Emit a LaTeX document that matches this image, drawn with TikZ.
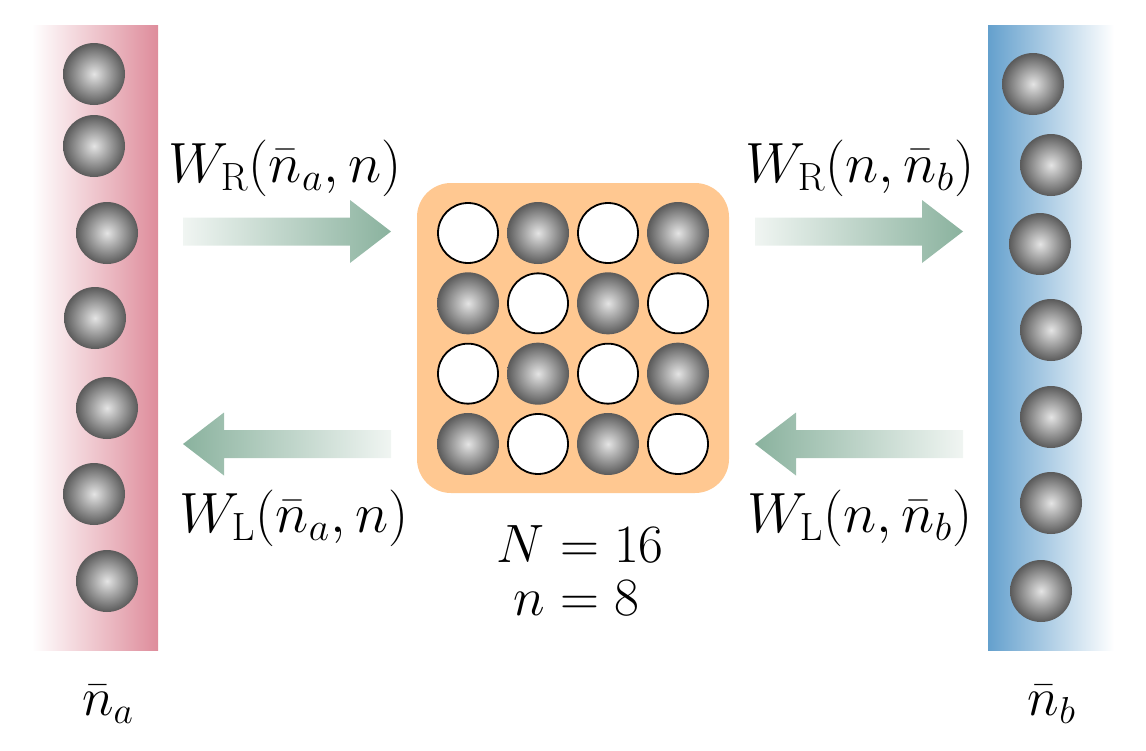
\documentclass[tikz,border=0pt]{standalone}
\DeclareMathSizes{24.88}{24.88}{17.28}{12}
\definecolor{resA}{RGB}{222,140,155}
\definecolor{resB}{RGB}{100,160,205}
\definecolor{boxorange}{RGB}{255,200,145}
\definecolor{arrowgreen}{RGB}{138,178,158}
\definecolor{arrowlight}{RGB}{240,245,242}
\definecolor{ballhi}{RGB}{228,228,228}
\definecolor{ballrim}{RGB}{90,90,90}
\begin{document}
\begin{tikzpicture}[x=1pt,y=-1pt,
  ball/.style={circle, minimum size=62pt, inner sep=0pt, inner color=ballhi, outer color=ballrim},
  hole/.style={circle, minimum size=60pt, inner sep=0pt, draw=black, line width=1.8pt, fill=white},
  lbl/.style={font=\fontsize{24.88}{30}\selectfont, inner sep=0pt, scale=2.1704, transform shape},
  wlbl/.style={lbl, scale=1.05},
  rarrow/.style={left color=arrowlight, right color=arrowgreen},
  larrow/.style={left color=arrowgreen, right color=arrowlight},
]
\useasboundingbox (0,0) rectangle (1146,750);
% reservoirs
\shade[left color=white, right color=resA] (32,25) rectangle (158,650);
\shade[left color=resB, right color=white] (988,25) rectangle (1114,650);
% reservoir particles
\foreach \x/\y [count=\i] in {94/74,94/146,107/233,95/318,107/408,94/494,107/581}
  \node[ball] (a\i) at (\x,\y) {};
\foreach \x/\y [count=\i] in {1033/84,1051/165,1040/244,1051/330,1051/417,1051/503,1041/591}
  \node[ball] (b\i) at (\x,\y) {};
% system
\node[fill=boxorange, rounded corners=34pt, minimum width=312pt, minimum height=310pt, inner sep=0pt] (sys) at (573,338) {};
\foreach \r in {0,...,3}
  \foreach \c in {0,...,3}{
    \pgfmathtruncatemacro{\odd}{mod(\r+\c,2)}
    \ifnum\odd=1
      \node[ball] (s\r\c) at (468+70*\c, 233+70.33*\r) {};
    \else
      \node[hole] (s\r\c) at (468+70*\c, 233+70.33*\r) {};
    \fi
  }
% arrows
\shade[rarrow] (183,217.5) -- (350,217.5) -- (350,200) -- (391,231.5) -- (350,263) -- (350,245.5) -- (183,245.5) -- cycle;
\shade[rarrow] (755,217.5) -- (922,217.5) -- (922,200) -- (963,231.5) -- (922,263) -- (922,245.5) -- (755,245.5) -- cycle;
\shade[larrow] (183,444) -- (224,412.5) -- (224,430) -- (391,430) -- (391,458) -- (224,458) -- (224,475.5) -- cycle;
\shade[larrow] (755,444) -- (796,412.5) -- (796,430) -- (963,430) -- (963,458) -- (796,458) -- (796,475.5) -- cycle;
% labels
\node[wlbl, anchor=base] (wra) at (285,182) {$W_{\mathrm{R}}(\bar n_a,n)$};
\node[wlbl, anchor=base] (wrb) at (860,182) {$W_{\mathrm{R}}(n,\bar n_b)$};
\node[wlbl, anchor=base] (wla) at (294,532) {$W_{\mathrm{L}}(\bar n_a,n)$};
\node[wlbl, anchor=base] (wlb) at (860,532) {$W_{\mathrm{L}}(n,\bar n_b)$};
\node[lbl, anchor=base] (na) at (108,715) {$\bar n_a$};
\node[lbl, anchor=base] (nb) at (1052,715) {$\bar n_b$};
\node[lbl, anchor=base east] (Nl) at (545,562) {$N$};
\node[lbl, anchor=base west] (Nr) at (Nl.base east) {${}=16$};
\node[lbl, anchor=base east] (nl) at (545,615) {$n$};
\node[lbl, anchor=base west] (nr) at (nl.base east) {${}=8$};
\end{tikzpicture}
\end{document}
